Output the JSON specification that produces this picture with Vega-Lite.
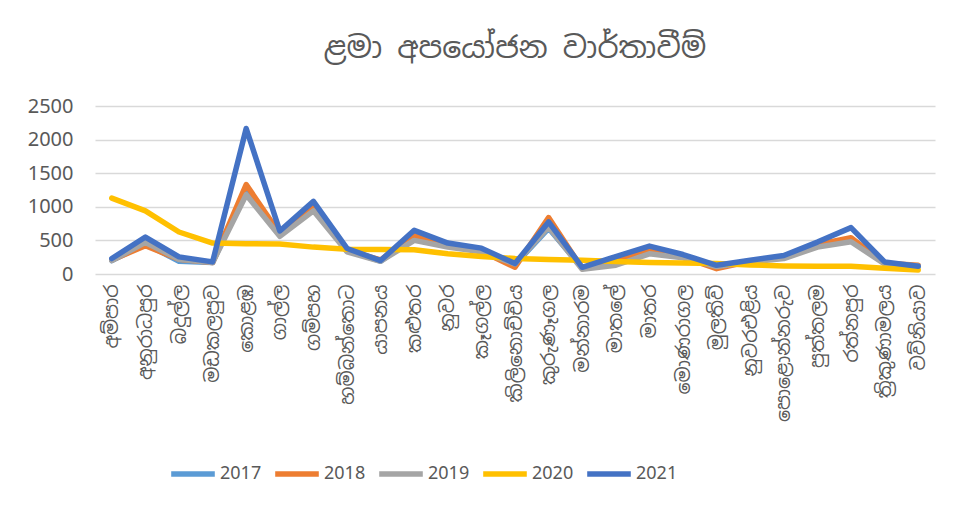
{
  "$schema": "https://vega.github.io/schema/vega-lite/v6.json",
  "width": 840,
  "height": 168,
  "autosize": "none",
  "padding": {"left": 95, "top": 106, "right": 23, "bottom": 236},
  "background": "white",
  "title": {
    "text": "ළමා අපයෝජන වාර්තාවීම්",
    "fontSize": 30,
    "fontWeight": "normal",
    "color": "#595959",
    "font": "Noto Sans Sinhala, Iskoola Pota, Noto Sans, sans-serif",
    "offset": 32,
    "anchor": "middle"
  },
  "config": {
    "view": {"stroke": null},
    "font": "Noto Sans"
  },
  "data": {
    "values": [
      {"district": "අම්පාර", "year": "2017", "count": 200},
      {"district": "අනුරාධපුර", "year": "2017", "count": 450},
      {"district": "බදුල්ල", "year": "2017", "count": 190},
      {"district": "මඩකලපුව", "year": "2017", "count": 170},
      {"district": "කොළඹ", "year": "2017", "count": 1250},
      {"district": "ගාල්ල", "year": "2017", "count": 580},
      {"district": "ගම්පහ", "year": "2017", "count": 980},
      {"district": "හම්බන්තොට", "year": "2017", "count": 350},
      {"district": "යාපනය", "year": "2017", "count": 190},
      {"district": "කළුතර", "year": "2017", "count": 550},
      {"district": "නුවර", "year": "2017", "count": 430},
      {"district": "කෑගල්ල", "year": "2017", "count": 360},
      {"district": "කිලිනොච්චිය", "year": "2017", "count": 140},
      {"district": "කුරුණෑගල", "year": "2017", "count": 680},
      {"district": "මන්නාරම", "year": "2017", "count": 90},
      {"district": "මාතලේ", "year": "2017", "count": 220},
      {"district": "මාතර", "year": "2017", "count": 390},
      {"district": "මොණරාගල", "year": "2017", "count": 260},
      {"district": "මුලතිව්", "year": "2017", "count": 120},
      {"district": "නුවරඑළිය", "year": "2017", "count": 190},
      {"district": "පොළොන්නරුව", "year": "2017", "count": 250},
      {"district": "පුත්තලම", "year": "2017", "count": 420},
      {"district": "රත්නපුර", "year": "2017", "count": 500},
      {"district": "ත්‍රිකුණාමලය", "year": "2017", "count": 160},
      {"district": "වව්නියාව", "year": "2017", "count": 110},

      {"district": "අම්පාර", "year": "2018", "count": 210},
      {"district": "අනුරාධපුර", "year": "2018", "count": 420},
      {"district": "බදුල්ල", "year": "2018", "count": 220},
      {"district": "මඩකලපුව", "year": "2018", "count": 170},
      {"district": "කොළඹ", "year": "2018", "count": 1330},
      {"district": "ගාල්ල", "year": "2018", "count": 600},
      {"district": "ගම්පහ", "year": "2018", "count": 1000},
      {"district": "හම්බන්තොට", "year": "2018", "count": 350},
      {"district": "යාපනය", "year": "2018", "count": 210},
      {"district": "කළුතර", "year": "2018", "count": 570},
      {"district": "නුවර", "year": "2018", "count": 420},
      {"district": "කෑගල්ල", "year": "2018", "count": 340},
      {"district": "කිලිනොච්චිය", "year": "2018", "count": 100},
      {"district": "කුරුණෑගල", "year": "2018", "count": 840},
      {"district": "මන්නාරම", "year": "2018", "count": 80},
      {"district": "මාතලේ", "year": "2018", "count": 200},
      {"district": "මාතර", "year": "2018", "count": 370},
      {"district": "මොණරාගල", "year": "2018", "count": 250},
      {"district": "මුලතිව්", "year": "2018", "count": 80},
      {"district": "නුවරඑළිය", "year": "2018", "count": 190},
      {"district": "පොළොන්නරුව", "year": "2018", "count": 260},
      {"district": "පුත්තලම", "year": "2018", "count": 440},
      {"district": "රත්නපුර", "year": "2018", "count": 540},
      {"district": "ත්‍රිකුණාමලය", "year": "2018", "count": 160},
      {"district": "වව්නියාව", "year": "2018", "count": 130},

      {"district": "අම්පාර", "year": "2019", "count": 200},
      {"district": "අනුරාධපුර", "year": "2019", "count": 470},
      {"district": "බදුල්ල", "year": "2019", "count": 220},
      {"district": "මඩකලපුව", "year": "2019", "count": 170},
      {"district": "කොළඹ", "year": "2019", "count": 1180},
      {"district": "ගාල්ල", "year": "2019", "count": 560},
      {"district": "ගම්පහ", "year": "2019", "count": 940},
      {"district": "හම්බන්තොට", "year": "2019", "count": 330},
      {"district": "යාපනය", "year": "2019", "count": 190},
      {"district": "කළුතර", "year": "2019", "count": 500},
      {"district": "නුවර", "year": "2019", "count": 400},
      {"district": "කෑගල්ල", "year": "2019", "count": 330},
      {"district": "කිලිනොච්චිය", "year": "2019", "count": 150},
      {"district": "කුරුණෑගල", "year": "2019", "count": 700},
      {"district": "මන්නාරම", "year": "2019", "count": 70},
      {"district": "මාතලේ", "year": "2019", "count": 130},
      {"district": "මාතර", "year": "2019", "count": 300},
      {"district": "මොණරාගල", "year": "2019", "count": 240},
      {"district": "මුලතිව්", "year": "2019", "count": 110},
      {"district": "නුවරඑළිය", "year": "2019", "count": 180},
      {"district": "පොළොන්නරුව", "year": "2019", "count": 230},
      {"district": "පුත්තලම", "year": "2019", "count": 400},
      {"district": "රත්නපුර", "year": "2019", "count": 480},
      {"district": "ත්‍රිකුණාමලය", "year": "2019", "count": 150},
      {"district": "වව්නියාව", "year": "2019", "count": 120},

      {"district": "අම්පාර", "year": "2020", "count": 1130},
      {"district": "අනුරාධපුර", "year": "2020", "count": 940},
      {"district": "බදුල්ල", "year": "2020", "count": 625},
      {"district": "මඩකලපුව", "year": "2020", "count": 460},
      {"district": "කොළඹ", "year": "2020", "count": 450},
      {"district": "ගාල්ල", "year": "2020", "count": 445},
      {"district": "ගම්පහ", "year": "2020", "count": 400},
      {"district": "හම්බන්තොට", "year": "2020", "count": 370},
      {"district": "යාපනය", "year": "2020", "count": 365},
      {"district": "කළුතර", "year": "2020", "count": 360},
      {"district": "නුවර", "year": "2020", "count": 300},
      {"district": "කෑගල්ල", "year": "2020", "count": 260},
      {"district": "කිලිනොච්චිය", "year": "2020", "count": 230},
      {"district": "කුරුණෑගල", "year": "2020", "count": 215},
      {"district": "මන්නාරම", "year": "2020", "count": 205},
      {"district": "මාතලේ", "year": "2020", "count": 185},
      {"district": "මාතර", "year": "2020", "count": 170},
      {"district": "මොණරාගල", "year": "2020", "count": 165},
      {"district": "මුලතිව්", "year": "2020", "count": 155},
      {"district": "නුවරඑළිය", "year": "2020", "count": 135},
      {"district": "පොළොන්නරුව", "year": "2020", "count": 120},
      {"district": "පුත්තලම", "year": "2020", "count": 115},
      {"district": "රත්නපුර", "year": "2020", "count": 115},
      {"district": "ත්‍රිකුණාමලය", "year": "2020", "count": 85},
      {"district": "වව්නියාව", "year": "2020", "count": 60},

      {"district": "අම්පාර", "year": "2021", "count": 230},
      {"district": "අනුරාධපුර", "year": "2021", "count": 550},
      {"district": "බදුල්ල", "year": "2021", "count": 255},
      {"district": "මඩකලපුව", "year": "2021", "count": 180},
      {"district": "කොළඹ", "year": "2021", "count": 2165},
      {"district": "ගාල්ල", "year": "2021", "count": 640},
      {"district": "ගම්පහ", "year": "2021", "count": 1080},
      {"district": "හම්බන්තොට", "year": "2021", "count": 380},
      {"district": "යාපනය", "year": "2021", "count": 200},
      {"district": "කළුතර", "year": "2021", "count": 650},
      {"district": "නුවර", "year": "2021", "count": 460},
      {"district": "කෑගල්ල", "year": "2021", "count": 385},
      {"district": "කිලිනොච්චිය", "year": "2021", "count": 155},
      {"district": "කුරුණෑගල", "year": "2021", "count": 775},
      {"district": "මන්නාරම", "year": "2021", "count": 100},
      {"district": "මාතලේ", "year": "2021", "count": 260},
      {"district": "මාතර", "year": "2021", "count": 415},
      {"district": "මොණරාගල", "year": "2021", "count": 290},
      {"district": "මුලතිව්", "year": "2021", "count": 130},
      {"district": "නුවරඑළිය", "year": "2021", "count": 205},
      {"district": "පොළොන්නරුව", "year": "2021", "count": 275},
      {"district": "පුත්තලම", "year": "2021", "count": 475},
      {"district": "රත්නපුර", "year": "2021", "count": 690},
      {"district": "ත්‍රිකුණාමලය", "year": "2021", "count": 180},
      {"district": "වව්නියාව", "year": "2021", "count": 115}
    ]
  },
  "mark": {"type": "line", "strokeWidth": 5.5, "strokeCap": "round", "strokeJoin": "round"},
  "encoding": {
    "x": {
      "field": "district",
      "type": "nominal",
      "sort": null,
      "scale": {"type": "point", "padding": 0.5},
      "axis": {
        "title": null,
        "labelAngle": -90,
        "labelFont": "Noto Sans Sinhala, Iskoola Pota, Noto Sans, sans-serif",
        "labelFontSize": 19,
        "labelColor": "#595959",
        "labelPadding": 10,
        "ticks": false,
        "domain": false,
        "labelLimit": 220
      }
    },
    "y": {
      "field": "count",
      "type": "quantitative",
      "scale": {"domain": [0, 2500], "nice": false},
      "axis": {
        "title": null,
        "values": [0, 500, 1000, 1500, 2000, 2500],
        "format": "d",
        "labelFontSize": 20,
        "labelColor": "#595959",
        "labelPadding": 22,
        "ticks": false,
        "tickSize": 0,
        "domain": false,
        "gridColor": "#D9D9D9",
        "gridWidth": 1.5
      }
    },
    "color": {
      "field": "year",
      "type": "nominal",
      "scale": {
        "domain": ["2017", "2018", "2019", "2020", "2021"],
        "range": ["#5B9BD5", "#ED7D31", "#A5A5A5", "#FFC000", "#4472C4"]
      },
      "legend": {
        "title": null,
        "orient": "none",
        "direction": "horizontal",
        "legendX": 73,
        "legendY": 343,
        "symbolType": "stroke",
        "symbolSize": 1900,
        "symbolStrokeWidth": 5.5,
        "labelFontSize": 18,
        "labelColor": "#595959",
        "labelOffset": 2,
        "columnPadding": 2
      }
    }
  }
}
